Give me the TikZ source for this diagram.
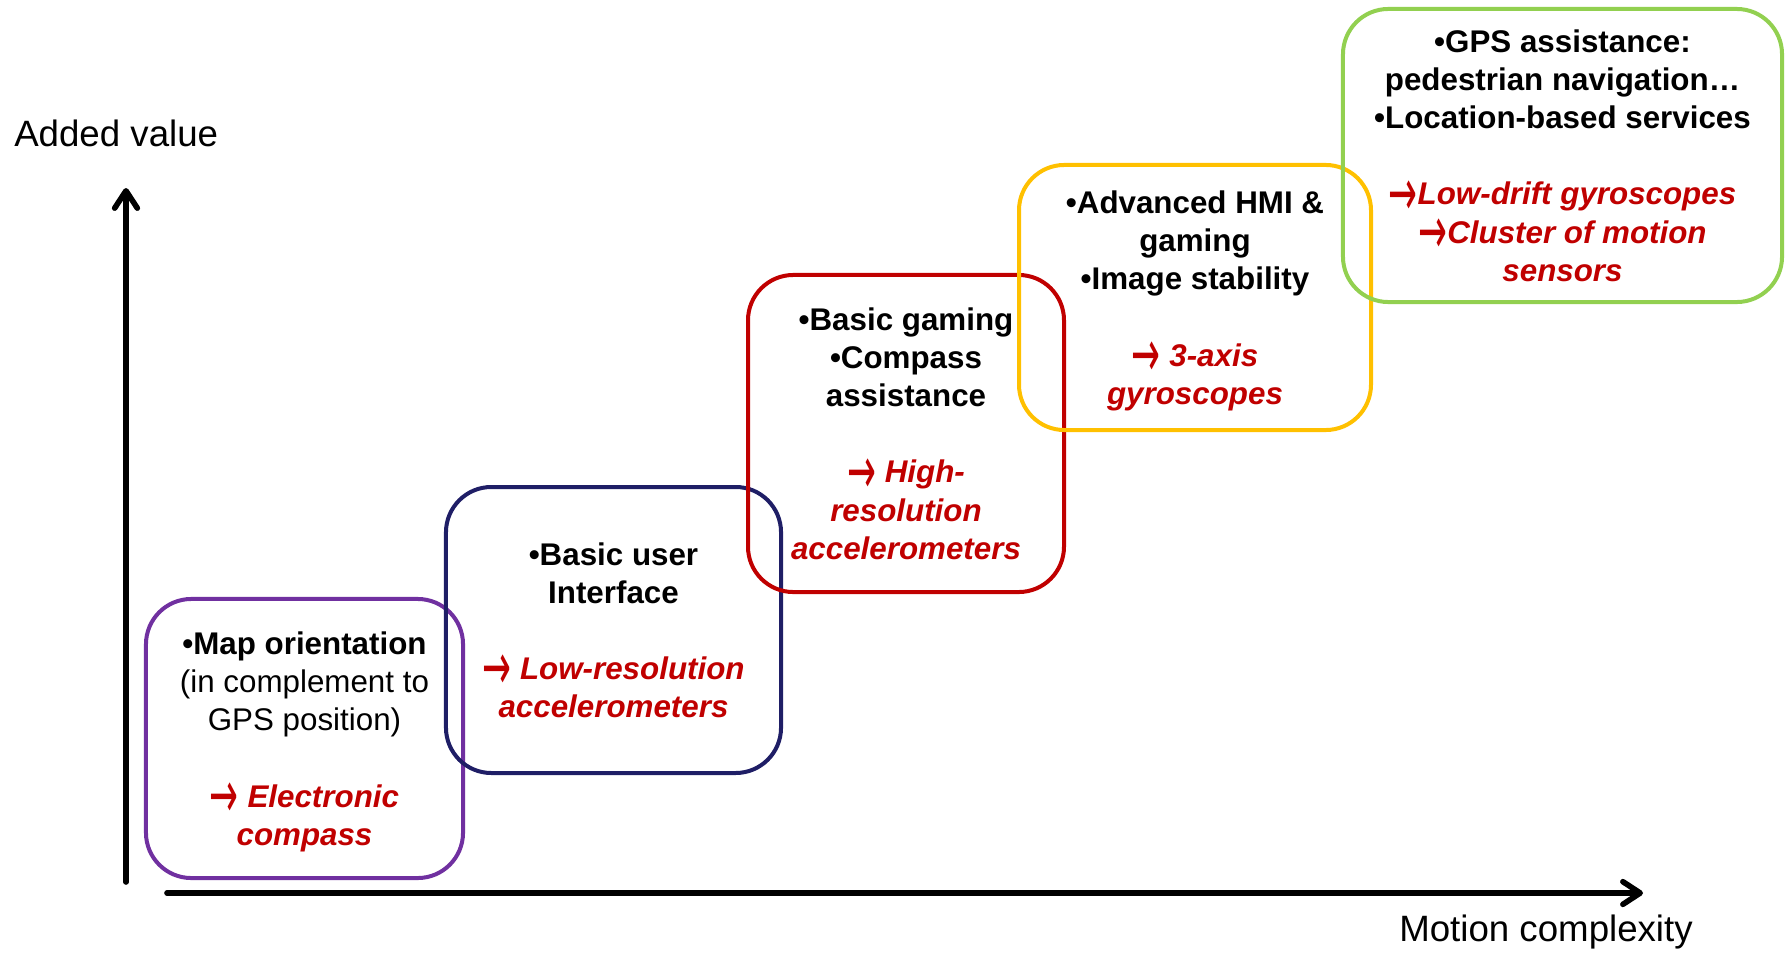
\documentclass[tikz,border=0pt]{standalone}
\usepackage{fontspec}
\setmainfont{Liberation Sans}
\newfontfamily\arrowfont{DejaVu Sans}
\usepackage{graphicx}
\usepackage{tikz}
\usetikzlibrary{arrows.meta}
\usetikzlibrary{positioning}
\definecolor{mappurple}{HTML}{7030A0}
\definecolor{uinavy}{HTML}{1F1E66}
\definecolor{gamered}{HTML}{C00000}
\definecolor{hmiyellow}{HTML}{FFC000}
\definecolor{gpsgreen}{HTML}{92D050}
\definecolor{sensorred}{HTML}{C00000}
\newcommand{\sensor}[1]{{\color{sensorred}\bfseries\itshape #1}}
\newcommand{\toward}{\raisebox{-0.33em}{\scalebox{1.1}[2.1]{\arrowfont\upshape\mdseries →}}}

\begin{document}
\begin{tikzpicture}[x=0.75pt, y=-0.75pt,
    stage/.style={draw, line width=3pt, rounded corners=34pt, align=center, inner sep=0pt, text depth=0pt,
                  font=\fontsize{23.5}{28.6}\selectfont},
    axis/.style={line width=4.2pt, line cap=round, -{Straight Barb[length=13pt, width=17pt, round]}},
    axislabel/.style={inner sep=0pt, font=\fontsize{27.5}{33}\selectfont}]
            \useasboundingbox (0,0) rectangle (1785,953);

            \draw (304.5,738.5) node[stage, draw=mappurple, minimum width=237.8pt, minimum height=209.3pt]   (map) {\textbf{•Map orientation}\\(in complement to\\GPS position)\\[28.6pt]\sensor{\toward{} Electronic}\\\sensor{compass}};
            \draw (613.5,630) node[stage, draw=uinavy, minimum width=251.3pt, minimum height=214.5pt]      (ui) {\textbf{•Basic user}\\\textbf{Interface}\\[28.6pt]\sensor{\toward{} Low-resolution}\\\sensor{accelerometers}};
            \draw (906,433.5) node[stage, draw=gamered, minimum width=237pt, minimum height=237.8pt]       (gaming) {\textbf{•Basic gaming}\\\textbf{•Compass}\\\textbf{assistance}\\[28.6pt]\sensor{\toward{} High-}\\\sensor{resolution}\\\sensor{accelerometers}};
            \draw (1195,297.5) node[stage, draw=hmiyellow, minimum width=264pt, minimum height=198.8pt]   (hmi) {\textbf{•Advanced HMI \&}\\\textbf{gaming}\\\textbf{•Image stability}\\[28.6pt]\sensor{\toward{} 3-axis}\\\sensor{gyroscopes}};
            \draw (1562.5,155.5) node[stage, draw=gpsgreen, minimum width=329.3pt, minimum height=219.8pt] (gps) {\textbf{•GPS assistance:}\\\textbf{pedestrian navigation…}\\\textbf{•Location-based services}\\[28.6pt]\sensor{\toward{}Low-drift gyroscopes}\\\sensor{\toward{}Cluster of motion}\\\sensor{sensors}};

            \coordinate (yfoot) at (126,882);
            \coordinate (ytip) at (126,188);
            \coordinate (xfoot) at (167,893);
            \coordinate (xtip) at (1643,893);
            \draw[axis] (yfoot) -- (ytip);
            \draw[axis] (xfoot) -- (xtip);

            \draw (14,133) node[axislabel, anchor=west]   (yname) {Added value};
            \draw (1546,932) node[axislabel]              (xname) {Motion complexity};

            \end{tikzpicture}
\end{document}
